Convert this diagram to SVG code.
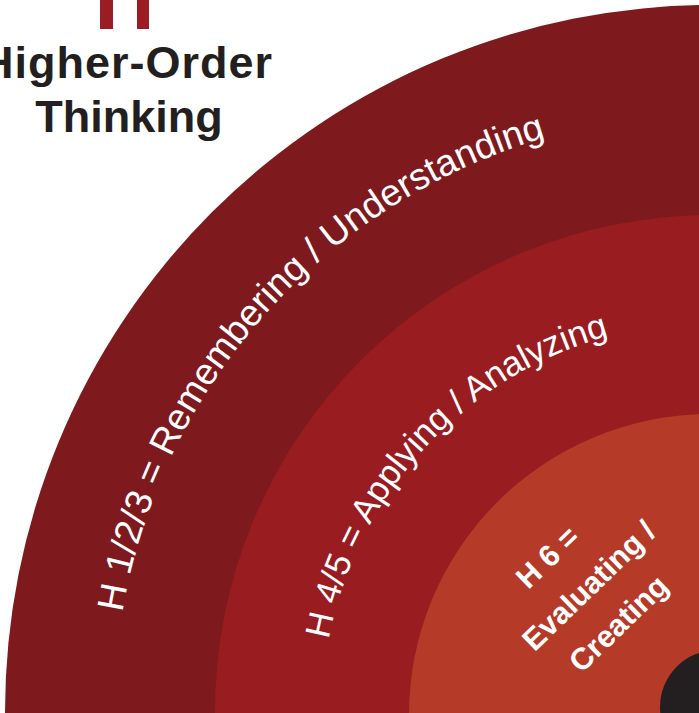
<svg xmlns="http://www.w3.org/2000/svg" width="699" height="713" viewBox="0 0 699 713">
<style>
.title{font-family:"Liberation Sans",Arial,Helvetica,sans-serif;font-weight:bold;font-size:45px;fill:#231f20}
.arc{font-family:"Liberation Sans",Arial,Helvetica,sans-serif;fill:#ffffff}
.inner{font-family:"Liberation Sans",Arial,Helvetica,sans-serif;font-weight:bold;font-size:30.5px;fill:#ffffff;text-anchor:middle}
</style>
<defs>
<path id="arc1" d="M 114 712 A 598 598 0 0 1 712 114"/>
<path id="arc2" d="M 322 712 A 390 390 0 0 1 712 322"/>
</defs>
<rect width="699" height="713" fill="#ffffff"/>
<g id="title">
<rect x="100" y="0" width="13" height="29" fill="#9b1c22"/>
<rect x="137" y="0" width="12" height="29" fill="#9b1c22"/>
<text class="title" x="-19" y="78" letter-spacing="1">Higher-Order</text>
<text class="title" x="129" y="132" text-anchor="middle">Thinking</text>
</g>
<g id="ring-outer">
<circle cx="712" cy="712" r="707" fill="#7e1a1e"/>
<text class="arc" font-size="37.3"><textPath href="#arc1" startOffset="100">H 1/2/3 = Remembering / Understanding</textPath></text>
</g>
<g id="ring-middle">
<circle cx="712" cy="712" r="497" fill="#991c21"/>
<text class="arc" font-size="35"><textPath href="#arc2" startOffset="73">H 4/5 = Applying / Analyzing</textPath></text>
</g>
<g id="ring-inner">
<circle cx="710" cy="715" r="301" fill="#b63a28"/>
<g transform="translate(596,593) rotate(-44)">
<text class="inner" x="-10" y="-49">H 6 =</text>
<text class="inner" x="0" y="0">Evaluating /</text>
<text class="inner" x="-5" y="48">Creating</text>
</g>
</g>
<g id="core">
<circle cx="717" cy="707" r="57" fill="#231f20"/>
</g>
<g id="connectors"/>
</svg>
